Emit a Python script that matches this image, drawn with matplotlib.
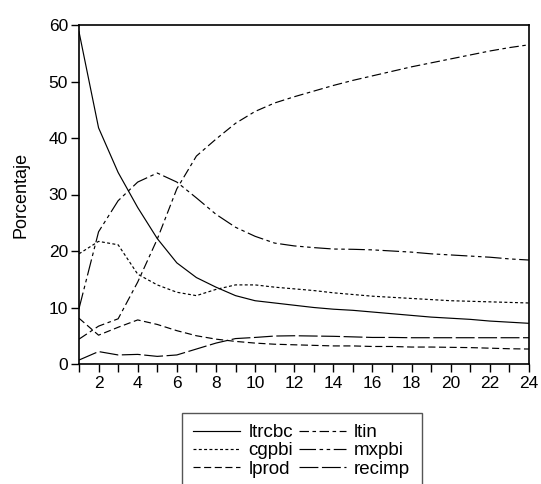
import numpy as np
import matplotlib.pyplot as plt

plt.rcParams['font.family'] = ['Liberation Sans', 'DejaVu Sans']

periods = list(range(1, 25))

ltrcbc = [58.8, 41.8, 33.9, 27.7, 22.2, 17.9, 15.3, 13.6, 12.1, 11.2, 10.8, 10.4,
          10.0, 9.7, 9.5, 9.2, 8.9, 8.6, 8.3, 8.1, 7.9, 7.6, 7.4, 7.2]
cgpbi = [19.5, 21.7, 21.1, 15.9, 14.0, 12.7, 12.1, 13.2, 14.0, 14.0, 13.6, 13.3,
         13.0, 12.6, 12.3, 12.0, 11.8, 11.6, 11.4, 11.2, 11.1, 11.0, 10.9, 10.8]
lprod = [8.1, 5.1, 6.5, 7.8, 7.0, 5.9, 5.0, 4.4, 4.0, 3.7, 3.5, 3.4,
         3.3, 3.2, 3.2, 3.1, 3.1, 3.0, 3.0, 2.95, 2.9, 2.8, 2.7, 2.65]
ltin = [4.4, 6.7, 8.0, 14.5, 22.1, 31.0, 36.8, 39.8, 42.6, 44.7, 46.2, 47.3,
        48.3, 49.3, 50.2, 51.0, 51.8, 52.6, 53.3, 54.0, 54.7, 55.4, 56.0, 56.5]
mxpbi = [9.8, 23.4, 28.9, 32.2, 33.8, 32.2, 29.4, 26.5, 24.2, 22.6, 21.4, 20.9,
         20.6, 20.35, 20.3, 20.2, 20.0, 19.8, 19.5, 19.3, 19.1, 18.9, 18.6, 18.4]
recimp = [0.7, 2.2, 1.6, 1.7, 1.35, 1.6, 2.65, 3.7, 4.5, 4.7, 4.95, 5.0,
          4.95, 4.9, 4.8, 4.7, 4.7, 4.65, 4.65, 4.65, 4.65, 4.65, 4.65, 4.65]

series = [
    ('ltrcbc', ltrcbc, '-'),
    ('cgpbi', cgpbi, (0, (2.5, 2))),
    ('lprod', lprod, (0, (6, 3))),
    ('ltin', ltin, (0, (8, 3, 3, 3))),
    ('mxpbi', mxpbi, (0, (14, 3, 3, 3, 3, 3))),
    ('recimp', recimp, (0, (16, 3))),
]

fig = plt.figure(figsize=(5.41, 4.84), dpi=100)
ax = fig.add_axes([79 / 541, 1 - 364 / 484, 450 / 541, 339 / 484])

for name, vals, ls in series:
    ax.plot(periods, vals, color='black', linewidth=0.85, linestyle=ls, label=name)

ax.set_xlim(1, 24)
ax.set_ylim(0, 60)
ax.set_xticks(range(2, 25, 2))
ax.set_xticks(range(1, 25), minor=True)
ax.set_yticks(range(0, 61, 10))
ax.tick_params(axis='both', which='both', direction='out', labelsize=12.5,
               width=1.0, top=False, right=False)
ax.tick_params(axis='x', which='both', length=6, pad=3)
ax.tick_params(axis='y', length=6, pad=2)
for sp in ax.spines.values():
    sp.set_linewidth(1.2)
ax.set_ylabel('Porcentaje', fontsize=13, labelpad=14)

fig.legend(loc='upper left', bbox_to_anchor=(182 / 541, 1 - 413 / 484), ncol=2,
           fontsize=13.5, frameon=True, fancybox=False, edgecolor='#555555',
           framealpha=1, handlelength=2.5, handletextpad=0.45, columnspacing=0.3,
           labelspacing=0.05, borderpad=0.6, borderaxespad=0)

fig.savefig('out.png', dpi=100)
